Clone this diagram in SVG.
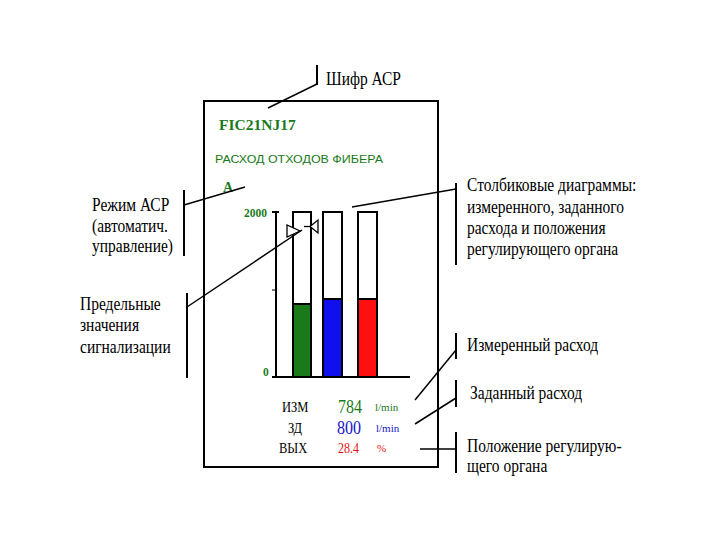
<svg xmlns="http://www.w3.org/2000/svg" width="720" height="540" viewBox="0 0 720 540">
<style>
.lbl{font-family:"Liberation Serif","Times New Roman",serif;font-size:15.5px;fill:#000}
.ln{stroke:#000;stroke-width:1.5;fill:none}
.tk{stroke:#000;stroke-width:2;fill:none}
.g{fill:#1a7a1a}
.b{fill:#1414c8}
.r{fill:#e81010}
.sm{font-family:"Liberation Serif","Times New Roman",serif}
</style>
<rect width="720" height="540" fill="#fff"/>
<g id="panel">
<rect x="204" y="101" width="234" height="366" fill="#fff" stroke="#000" stroke-width="2"/>
<text x="219" y="130" class="sm g" font-size="15.5" font-weight="bold">FIC21NJ17</text>
<text x="215" y="163" font-family="Liberation Sans,Arial,sans-serif" font-size="11.5" class="g" textLength="168" lengthAdjust="spacingAndGlyphs">РАСХОД ОТХОДОВ  ФИБЕРА</text>
<text x="223" y="192" class="sm g" font-size="14" font-weight="bold">А</text>
<text x="244" y="217" class="sm g" font-size="11.5" font-weight="bold">2000</text>
<text x="263" y="376" class="sm g" font-size="11.5" font-weight="bold">0</text>
</g>
<g id="axis">
<line x1="276" y1="212" x2="276" y2="377" class="tk"/>
<line x1="272" y1="377" x2="410" y2="377" class="tk"/>
<line x1="272" y1="212" x2="279" y2="212" class="tk"/>
<line x1="272" y1="290" x2="276" y2="290" stroke="#000" stroke-width="1"/>
</g>
<g id="bar-measured">
<rect x="293" y="212" width="18" height="165" fill="#fff" stroke="#000" stroke-width="2"/>
<rect x="293" y="304" width="18" height="73" fill="#1a7a1a" stroke="#000" stroke-width="2"/>
</g>
<g id="bar-setpoint">
<rect x="323" y="212" width="19" height="165" fill="#fff" stroke="#000" stroke-width="2"/>
<rect x="323" y="299" width="19" height="78" fill="#1010ee" stroke="#000" stroke-width="2"/>
</g>
<g id="bar-output">
<rect x="358" y="212" width="19" height="165" fill="#fff" stroke="#000" stroke-width="2"/>
<rect x="358" y="299" width="19" height="78" fill="#ff1010" stroke="#000" stroke-width="2"/>
</g>
<g id="limits">
<polygon points="287,225 287,237 300,231" fill="#fff" stroke="#000" stroke-width="1.3"/>
<polygon points="318,220 318,233 310,226.5" fill="#fff" stroke="#000" stroke-width="1.3"/>
<line x1="304" y1="226.5" x2="310" y2="226.5" stroke="#000" stroke-width="1.3"/>
</g>
<g id="values">
<text transform="translate(282 412) scale(1 1.15)" class="sm" font-size="12.5">ИЗМ</text>
<text transform="translate(288 433) scale(1 1.15)" class="sm" font-size="12.5">ЗД</text>
<text transform="translate(279 453) scale(1 1.15)" class="sm" font-size="12.5">ВЫХ</text>
<text transform="translate(338 413) scale(1 1.15)" class="sm g" font-size="16">784</text>
<text transform="translate(337 434) scale(1 1.15)" class="sm b" font-size="16">800</text>
<text transform="translate(338 453) scale(1 1.15)" class="sm r" font-size="12">28.4</text>
<text x="375" y="411" class="sm g" font-size="11">l/min</text>
<text x="376" y="432" class="sm b" font-size="11">l/min</text>
<text x="377" y="452" class="sm r" font-size="11">%</text>
</g>
<g id="label-code">
<text transform="translate(326 85) scale(1 1.2)" class="lbl">Шифр АСР</text>
</g>
<g id="label-mode">
<text transform="translate(92 211) scale(1 1.2)" class="lbl">Режим АСР</text>
<text transform="translate(92 232) scale(1 1.2)" class="lbl">(автоматич.</text>
<text transform="translate(92 252) scale(1 1.2)" class="lbl">управление)</text>
</g>
<g id="label-limits">
<text transform="translate(80 310) scale(1 1.2)" class="lbl">Предельные</text>
<text transform="translate(80 331) scale(1 1.2)" class="lbl">значения</text>
<text transform="translate(80 353) scale(1 1.2)" class="lbl">сигнализации</text>
</g>
<g id="label-bars">
<text transform="translate(467 191) scale(1 1.2)" class="lbl">Столбиковые диаграммы:</text>
<text transform="translate(467 213) scale(1 1.2)" class="lbl">измеренного, заданного</text>
<text transform="translate(467 234) scale(1 1.2)" class="lbl">расхода и положения</text>
<text transform="translate(467 255) scale(1 1.2)" class="lbl">регулирующего  органа</text>
</g>
<g id="label-measured">
<text transform="translate(467 351) scale(1 1.2)" class="lbl">Измеренный расход</text>
</g>
<g id="label-setpoint">
<text transform="translate(470 399) scale(1 1.2)" class="lbl">Заданный расход</text>
</g>
<g id="label-output">
<text transform="translate(467 452) scale(1 1.2)" class="lbl">Положение  регулирую-</text>
<text transform="translate(467 472) scale(1 1.2)" class="lbl">щего  органа</text>
</g>
<g id="connectors">
<line x1="317" y1="65" x2="317" y2="85" class="tk"/>
<line x1="317" y1="84" x2="268" y2="108" class="ln"/>
<line x1="184" y1="190" x2="184" y2="256" class="tk"/>
<line x1="184" y1="205" x2="245" y2="187" class="ln"/>
<line x1="187" y1="293" x2="187" y2="378" class="tk"/>
<line x1="187" y1="307" x2="302" y2="230" class="ln"/>
<line x1="456" y1="183" x2="456" y2="265" class="tk"/>
<line x1="352" y1="207" x2="456" y2="189" class="ln"/>
<line x1="456" y1="333" x2="456" y2="359" class="tk"/>
<line x1="415" y1="400" x2="456" y2="350" class="ln"/>
<line x1="456" y1="380" x2="456" y2="407" class="tk"/>
<line x1="415" y1="424" x2="456" y2="398" class="ln"/>
<line x1="456" y1="432" x2="456" y2="473" class="tk"/>
<line x1="420" y1="449" x2="456" y2="449" class="ln"/>
</g>
</svg>
